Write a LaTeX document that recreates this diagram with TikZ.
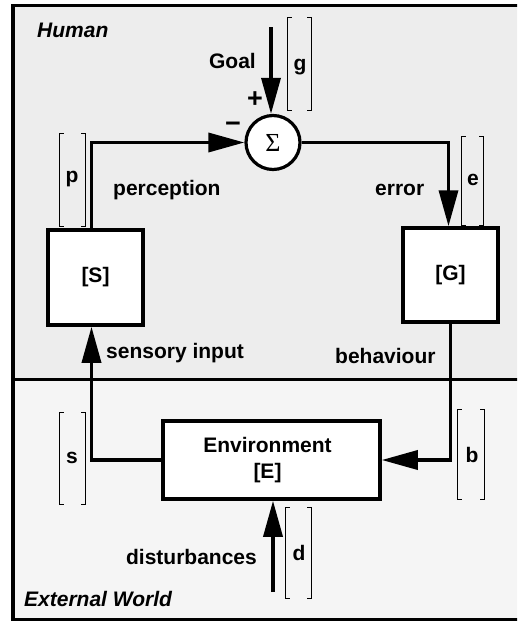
\documentclass[tikz,border=0pt]{standalone}
\usepackage{fontspec}
\setmainfont{Liberation Sans}
\newfontfamily\sigmafont{Liberation Serif}
\usetikzlibrary{arrows.meta}

\tikzset{
  lbl/.style={font=\fontsize{21}{26}\selectfont\bfseries, inner sep=0pt},
  sign/.style={font=\fontsize{27}{27}\selectfont\bfseries, inner sep=0pt},
  title/.style={font=\fontsize{21}{26}\selectfont\bfseries\itshape, inner sep=0pt},
  blockbox/.style={draw, line width=3.5pt, fill=white, inner sep=0pt,
    font=\fontsize{21}{26}\selectfont\bfseries, align=center},
  flowarr/.style={line width=3.5pt, -{Triangle[length=36pt,width=19pt]}},
  vecslot/.style={inner sep=0pt, minimum width=#1},
  brk/.style={line width=1.2pt},
}

% a tall vector bracket pair drawn round an empty named node
\newcommand\vecbracket[1]{%
  \draw[brk] ([xshift=4pt]#1.north west) -- (#1.north west) -- (#1.south west) -- ([xshift=4pt]#1.south west);
  \draw[brk] ([xshift=-4pt]#1.north east) -- (#1.north east) -- (#1.south east) -- ([xshift=-4pt]#1.south east);
}

\begin{document}
\begin{tikzpicture}[x=1pt, y=-1pt]
  \useasboundingbox (0,0) rectangle (517,621);
  \clip (0,0) rectangle (517,621);

  % the two regions
  \fill[black!7] (13,5.5) rectangle (522,379);
  \fill[black!4] (13,379) rectangle (522,620);
  \draw[line width=3.5pt] (13,5.5) rectangle (522,620);
  \draw[line width=3pt] (13,379) -- (522,379);

  \node[title, anchor=base west] (human) at (37,37) {Human};
  \node[title, anchor=base west] (world) at (24,606) {External World};

  % blocks
  \node[draw, circle, line width=3.2pt, fill=white, minimum size=54pt, inner sep=0pt,
        font=\fontsize{26}{26}\sigmafont] (sum) at (273,142.5) {Σ};
  \node[blockbox, minimum width=95pt, minimum height=95pt] (S) at (95.5,277.5) {[S]};
  \node[blockbox, minimum width=95pt, minimum height=94pt] (G) at (450.5,275) {[G]};
  \node[blockbox, minimum width=217pt, minimum height=78pt] (E) at (271.5,460)
       {\hspace*{-8pt}Environment\\[0pt]\hspace*{-8pt}[E]};

  % free ends of the input arrows
  \coordinate (goalin) at (271,27);
  \coordinate (distin) at (273,592);

  % signal paths
  \draw[flowarr] (goalin) -- (goalin |- sum.north);
  \draw[flowarr] ([xshift=-4pt]S.north) |- (sum.west);
  \draw[flowarr] (sum.east) -| ([xshift=-2pt]G.north);
  \draw[flowarr] (G.south) |- (E.east);
  \draw[flowarr] (E.west) -| ([xshift=-4pt]S.south);
  \draw[flowarr] (distin) -- (distin |- E.south);

  % signs at the summing junction
  \node[sign] (plus) at (255,100) {+};
  \node[sign] (minus) at (233,127) {−};

  % signal names
  \node[lbl, anchor=base east] (goal) at (256,68) {Goal};
  \node[lbl, anchor=base west] (perc) at (113,195) {perception};
  \node[lbl, anchor=base west] (err) at (375,195) {error};
  \node[lbl, anchor=base west] (sens) at (106,358) {sensory input};
  \node[lbl, anchor=base west] (beh) at (335,363) {behaviour};
  \node[lbl, anchor=base east] (dist) at (257,564) {disturbances};

  % signal vectors
  \node[vecslot=23pt, minimum height=92pt] (gv) at (299.5,64) {};
  \node[vecslot=25pt, minimum height=92pt] (pv) at (72.5,180) {};
  \node[vecslot=21pt, minimum height=88pt] (ev) at (472.5,181) {};
  \node[vecslot=25pt, minimum height=91pt] (sv) at (72.5,458.5) {};
  \node[vecslot=26pt, minimum height=89pt] (bv) at (471,454.5) {};
  \node[vecslot=25pt, minimum height=90pt] (dv) at (298.5,553) {};
  \vecbracket{gv}
  \vecbracket{pv}
  \vecbracket{ev}
  \vecbracket{sv}
  \vecbracket{bv}
  \vecbracket{dv}

  \node[lbl, anchor=base] (gl) at (300,70) {g};
  \node[lbl, anchor=base] (pl) at (72,182) {p};
  \node[lbl, anchor=base] (el) at (473,185) {e};
  \node[lbl, anchor=base] (sl) at (72,463) {s};
  \node[lbl, anchor=base] (bl) at (472,462) {b};
  \node[lbl, anchor=base] (dl) at (299,560) {d};
\end{tikzpicture}
\end{document}
